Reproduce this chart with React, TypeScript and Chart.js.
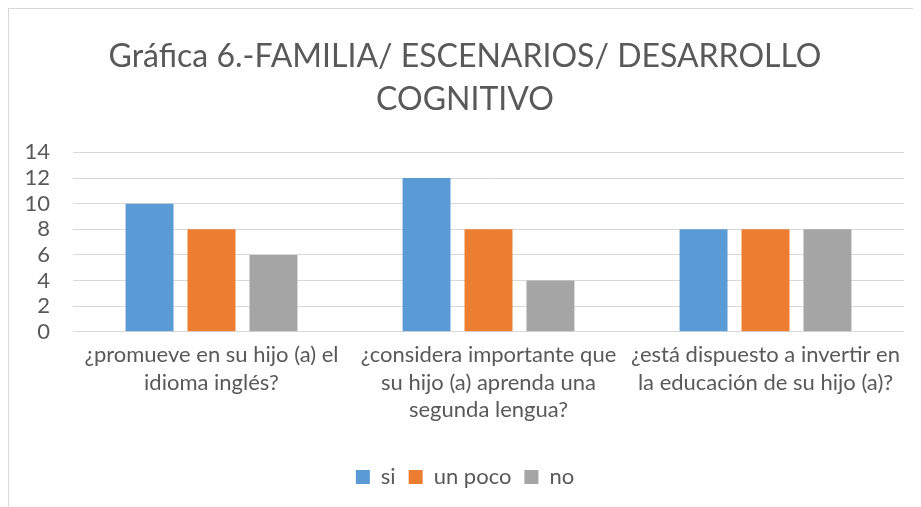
import React, { useEffect, useRef } from "react";
import { Chart, registerables } from "chart.js";

Chart.register(...registerables);

const titleLines = ["Gráfica 6.-FAMILIA/ ESCENARIOS/ DESARROLLO", "COGNITIVO"];
const categories = [
  ["¿promueve en su hijo (a) el", "idioma inglés?"],
  ["¿considera importante que", "su hijo (a) aprenda una", "segunda lengua?"],
  ["¿está dispuesto a invertir en", "la educación de su hijo (a)?"],
];
const siValues = [10, 12, 8];
const unPocoValues = [8, 8, 8];
const noValues = [6, 4, 8];
const seriesNames = ["si", "un poco", "no"];
const seriesColors = ["#5B9BD5", "#ED7D31", "#A5A5A5"];

const FONT = "Lato, 'Open Sans', sans-serif";
const TEXT = "#595959";

export default function App() {
  const ref = useRef<HTMLCanvasElement | null>(null);
  useEffect(() => {
    if (!ref.current) return;
    const chart = new Chart(ref.current, {
      type: "bar",
      data: {
        labels: categories,
        datasets: [siValues, unPocoValues, noValues].map((d, i) => ({
          label: seriesNames[i],
          data: d,
          backgroundColor: seriesColors[i],
          borderWidth: 0,
          categoryPercentage: 0.671,
          barPercentage: 0.774,
        })),
      },
      options: {
        animation: false,
        responsive: true,
        maintainAspectRatio: false,
        layout: { padding: { left: 17, right: 17, top: 0, bottom: 9 } },
        plugins: {
          title: {
            display: true,
            text: titleLines,
            color: TEXT,
            font: { family: FONT, size: 32, weight: "normal", lineHeight: 1.35 },
            padding: { top: 26, bottom: 31 },
          },
          legend: {
            position: "bottom",
            labels: {
              color: TEXT,
              font: { family: FONT, size: 22 },
              boxWidth: 14,
              boxHeight: 14,
              padding: 13,
            },
          },
          tooltip: { enabled: false },
        },
        scales: {
          x: {
            grid: { display: false },
            border: { display: false },
            ticks: {
              color: TEXT,
              font: { family: FONT, size: 22, lineHeight: 1.23 },
              maxRotation: 0,
              autoSkip: false,
              padding: 2,
            },
            afterFit: (scale: any) => {
              scale.height += 28;
            },
          },
          y: {
            min: 0,
            max: 14,
            ticks: {
              stepSize: 2,
              autoSkip: false,
              color: TEXT,
              font: { family: FONT, size: 22 },
              padding: 23,
            },
            afterFit: (scale: any) => {
              scale.width = 47;
            },
            grid: { color: "#D9D9D9", lineWidth: 1, drawTicks: false },
            border: { display: false },
          },
        },
      },
    });
    return () => chart.destroy();
  }, []);
  return (
    <div
      style={{
        width: 913,
        height: 499,
        boxSizing: "border-box",
        borderTop: "1px solid #D9D9D9",
        borderLeft: "1px solid #D9D9D9",
        position: "relative",
        background: "#fff",
      }}
    >
      <canvas ref={ref} />
    </div>
  );
}
